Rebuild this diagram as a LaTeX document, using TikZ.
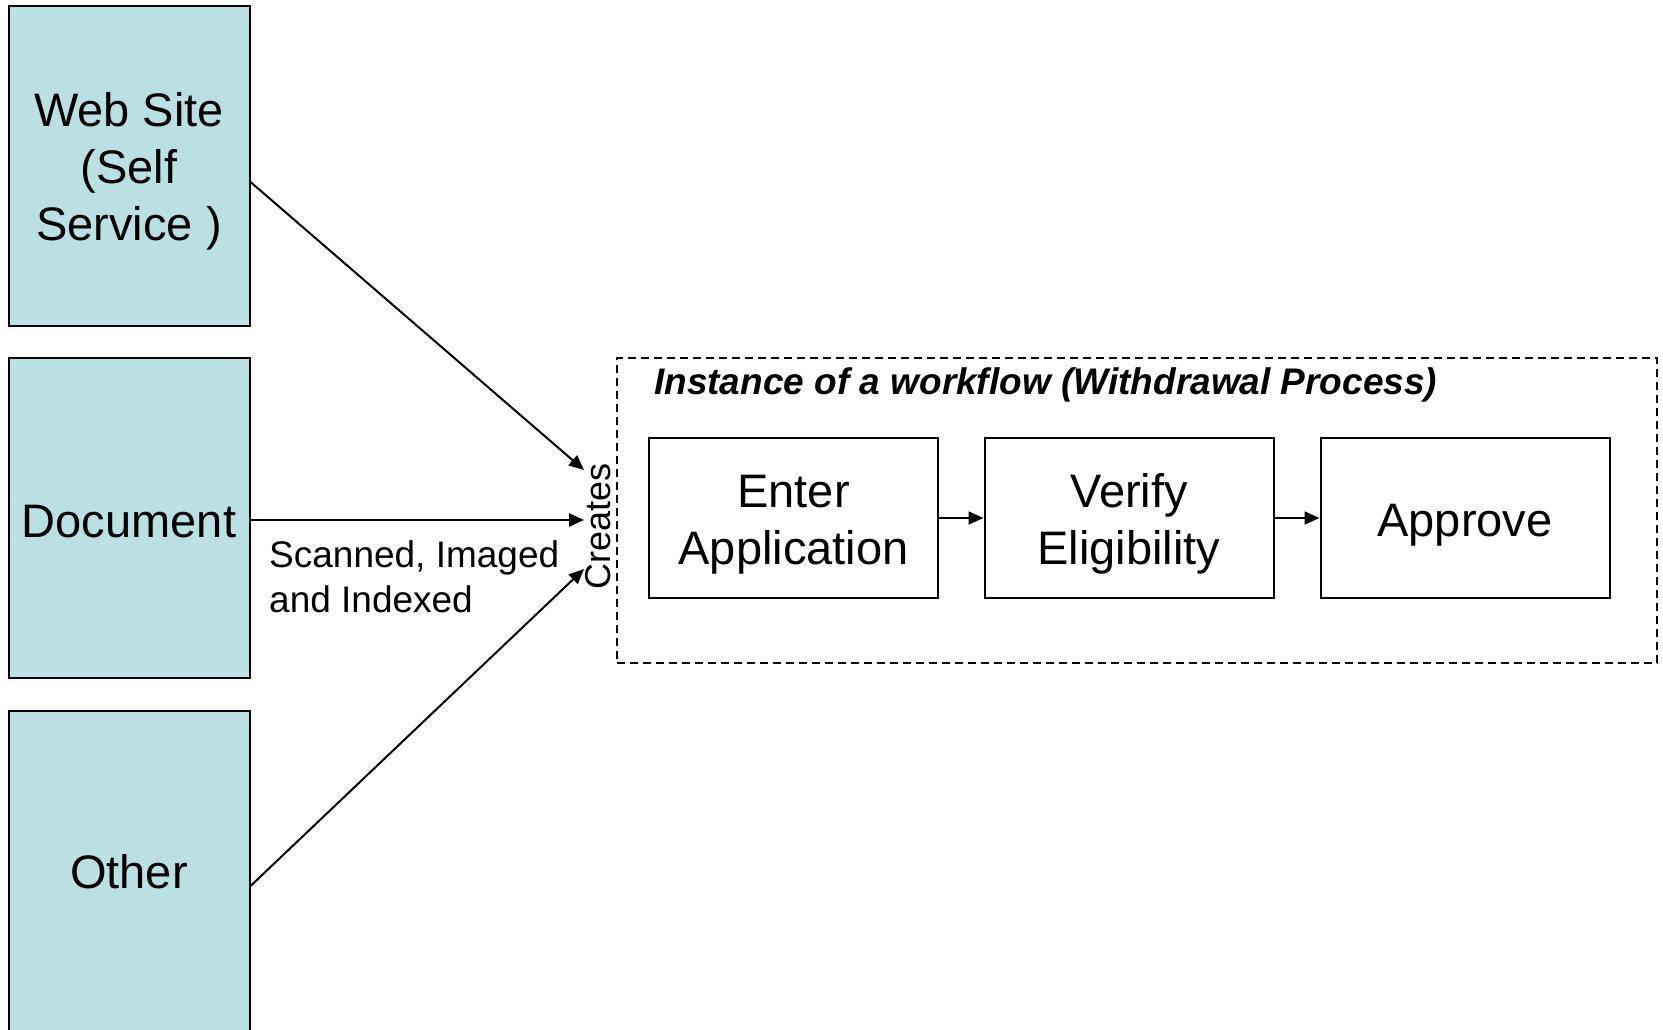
\documentclass[tikz,border=0pt]{standalone}
\usepackage{fontspec}
\setmainfont{Liberation Sans}
\usetikzlibrary{arrows.meta}
\definecolor{srcfill}{RGB}{187,224,227}
\newcommand\lowerby[1]{\rule{0pt}{#1}}
\begin{document}
\begin{tikzpicture}[x=1pt,y=-1pt,
  srcbox/.style={draw=black, line width=2pt, fill=srcfill, minimum width=241pt, inner sep=0pt, align=center, font=\fontsize{47}{57}\selectfont},
  stepbox/.style={draw=black, line width=2pt, fill=white, minimum width=289pt, minimum height=160pt, inner sep=0pt, align=center, font=\fontsize{47}{57}\selectfont},
  conn/.style={line width=2pt, -{Triangle[length=15pt,width=13pt]}},
  framebox/.style={draw=black, line width=2pt, dash pattern=on 8pt off 5pt, minimum width=1040pt, minimum height=305pt, inner sep=0pt},
]
\useasboundingbox (0,0) rectangle (1663,1029);
\fill[white] (0,0) rectangle (1663,1029);

% source boxes
\node[srcbox, minimum height=320pt] (web) at (129,166) {\lowerby{45.5pt}Web Site\\(Self\\Service )};
\node[srcbox, minimum height=320pt] (doc) at (129,518) {\lowerby{38.5pt}Document};
\node[srcbox, minimum height=322pt] (other) at (129,872) {Other};

% workflow frame
\node[framebox] (frame) at (1137,510.5) {};
\node[anchor=west, inner sep=0pt, font=\fontsize{37}{44}\selectfont\bfseries\itshape] (title) at (654,385) {Instance of a workflow (Withdrawal Process)};

% steps
\node[stepbox] (enter) at (793.5,518) {\lowerby{45pt}Enter\\Application};
\node[stepbox] (verify) at (1129,518) {\lowerby{45pt}Verify\\Eligibility};
\node[stepbox] (approve) at (1465,518) {\lowerby{46.5pt}Approve};

\draw[conn] (enter) -- (verify);
\draw[conn] (verify) -- (approve);

% creates
\node[rotate=90, inner sep=0pt, font=\fontsize{36}{43}\selectfont] (creates) at (598,526) {Creates};
\coordinate (t1) at (584,470);
\coordinate (t2) at (584,520);
\coordinate (t3) at (584,569);

\draw[conn] ([yshift=-16pt]web.east) -- (t1);
\draw[conn] ([yshift=-2pt]doc.east) -- (t2);
\draw[conn] ([yshift=-14pt]other.east) -- (t3);

\node[anchor=west, inner sep=0pt, align=left, font=\fontsize{37}{45}\selectfont] (scan) at (269,577) {Scanned, Imaged\\and Indexed};
\end{tikzpicture}
\end{document}
